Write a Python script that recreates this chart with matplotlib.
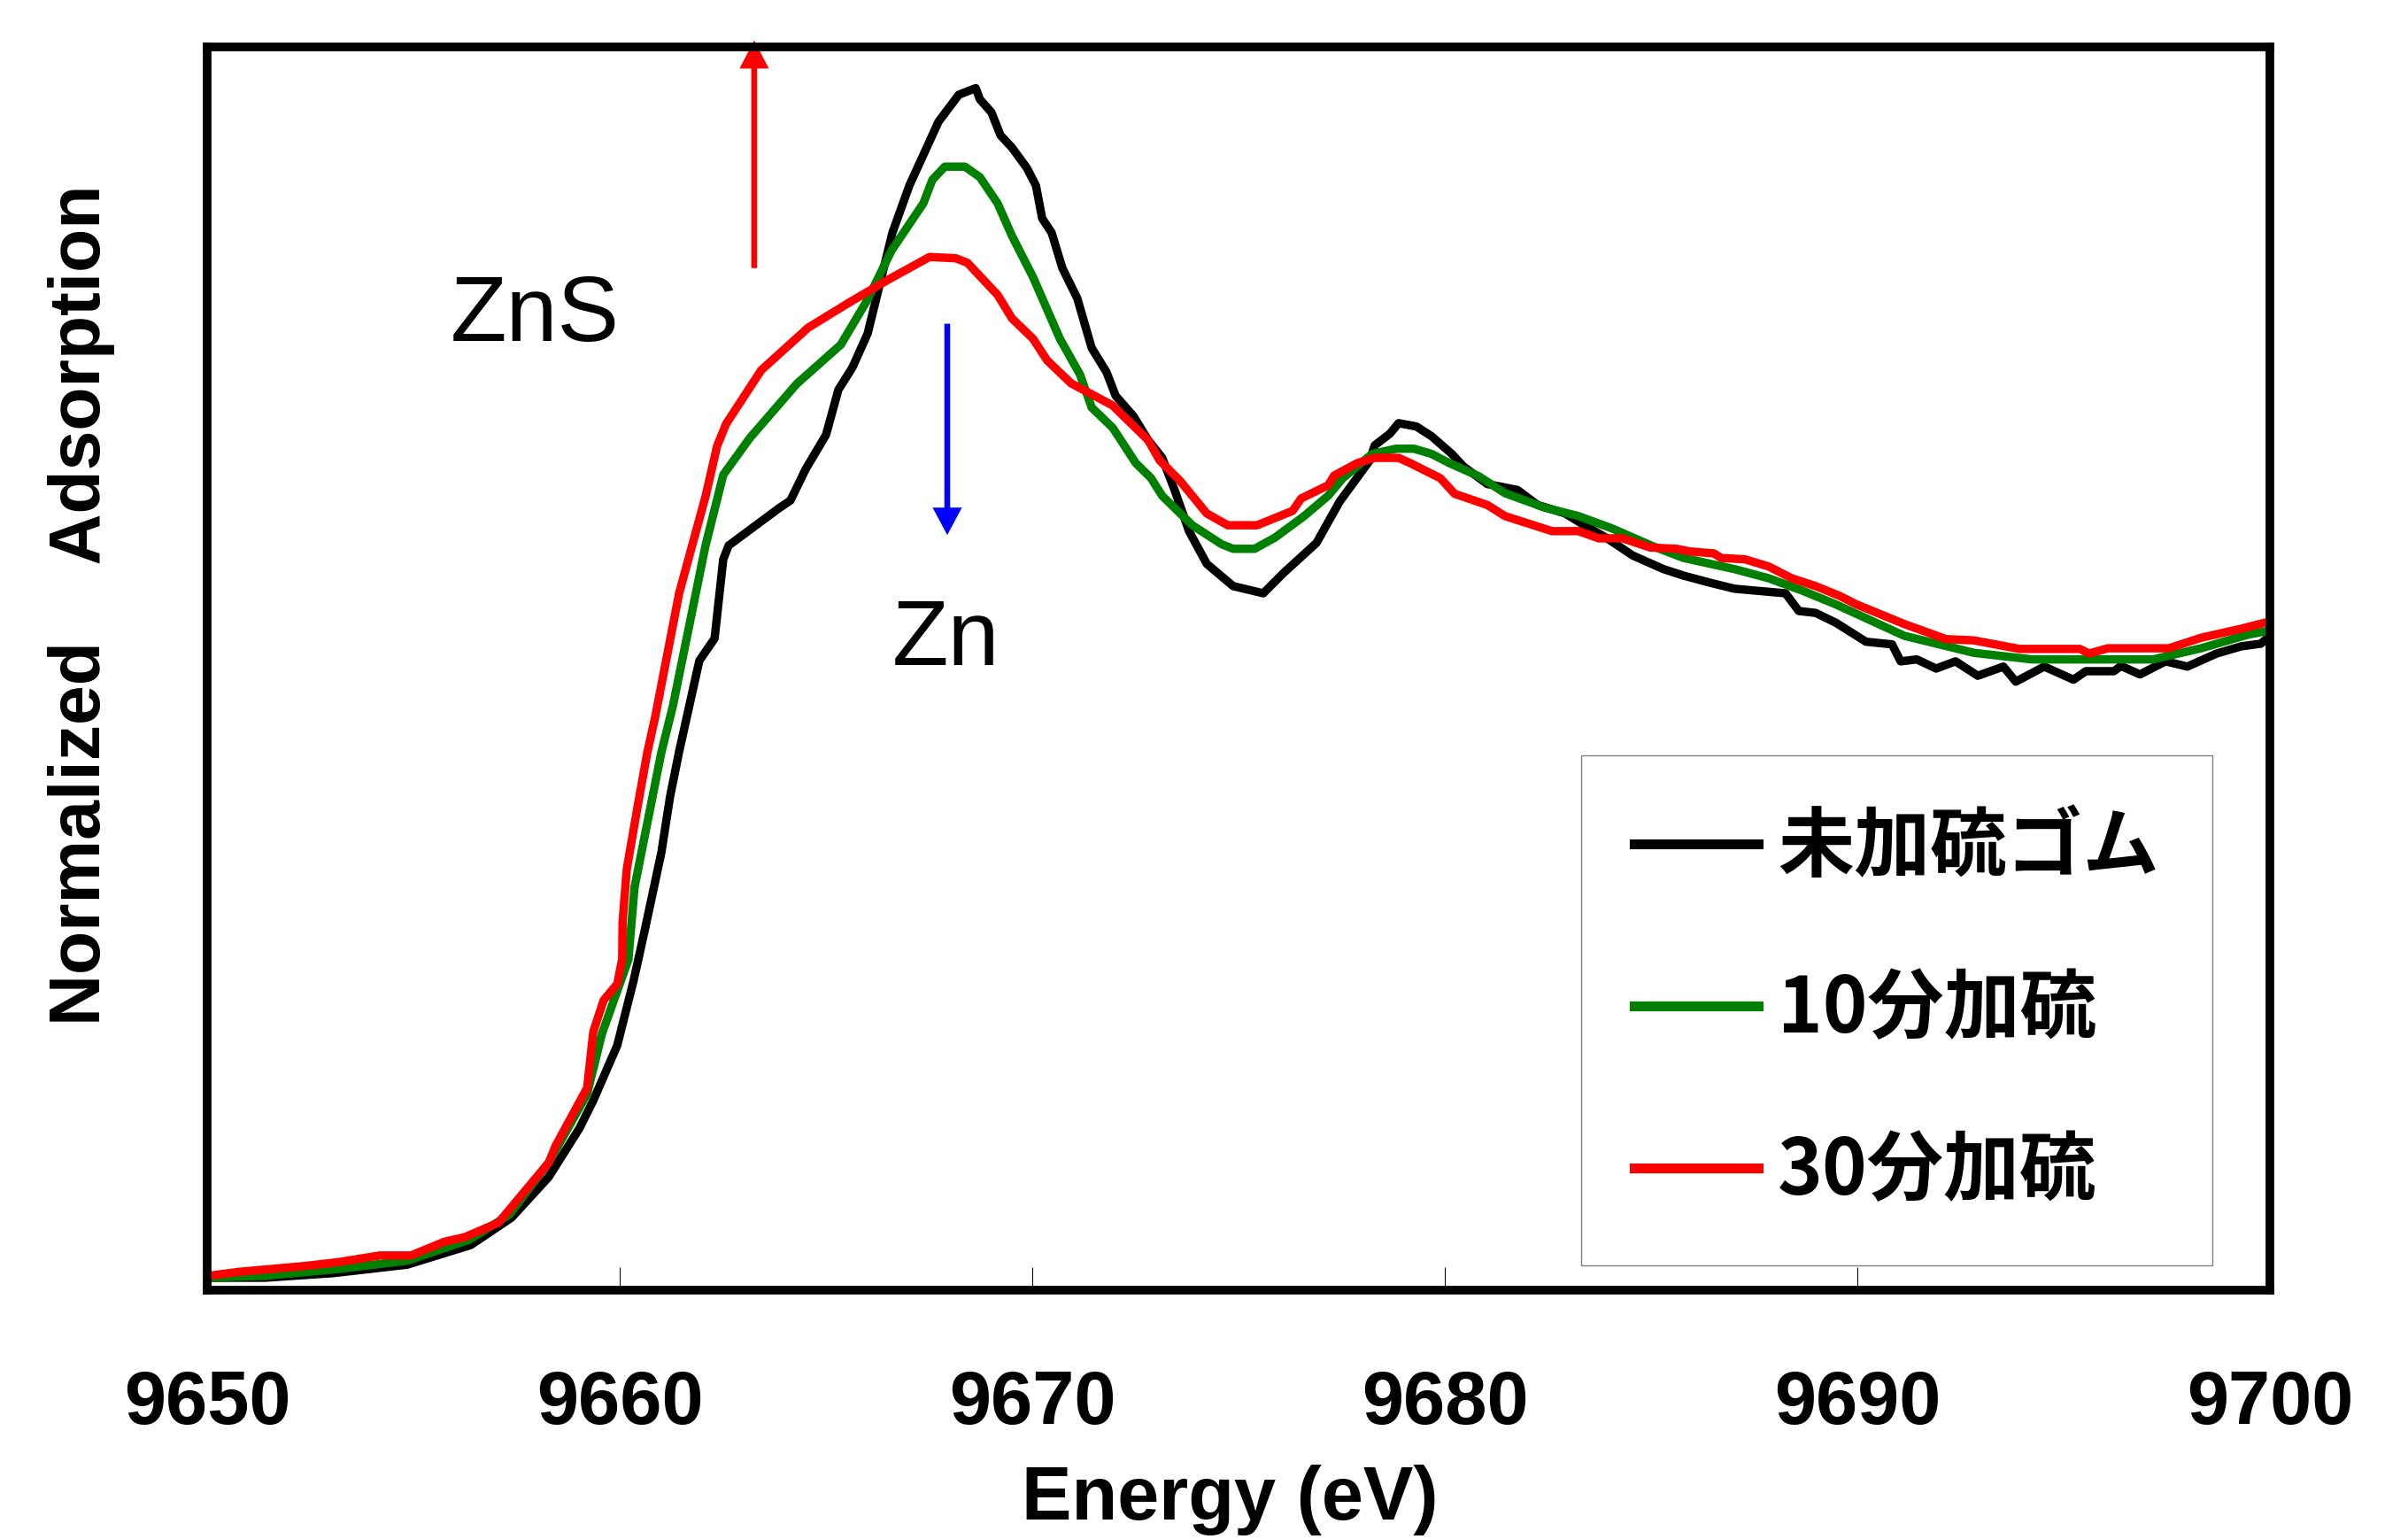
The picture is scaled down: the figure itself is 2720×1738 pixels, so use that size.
import matplotlib
matplotlib.use('Agg')
import matplotlib.pyplot as plt
from matplotlib.font_manager import FontProperties

plt.rcParams['font.family'] = ['Liberation Sans', 'Noto Sans CJK JP', 'DejaVu Sans']

# ---- data (energy in eV, normalized absorption) ----
e_black = [9650.04, 9651.39, 9653.05, 9654.85, 9656.39, 9657.38, 9658.28, 9659.03, 9659.36,
           9659.94, 9660.34, 9660.60, 9661.01, 9661.22, 9661.44, 9661.93, 9662.30, 9662.51,
           9662.64, 9663.86, 9664.14, 9664.51, 9665.00, 9665.30, 9665.64, 9666.01, 9666.61,
           9667.02, 9667.73, 9668.22, 9668.63, 9668.73, 9669.01, 9669.23, 9669.51, 9669.87,
           9670.09, 9670.24, 9670.47, 9670.73, 9671.09, 9671.44, 9671.80, 9672.02, 9672.45,
           9672.81, 9673.15, 9673.45, 9673.80, 9674.23, 9674.87, 9675.60, 9676.09, 9676.89,
           9677.45, 9678.18, 9678.30, 9678.67, 9678.88, 9679.31, 9679.68, 9680.17, 9680.45,
           9681.03, 9681.76, 9682.25, 9682.92, 9683.33, 9683.91, 9684.55, 9685.30, 9685.79,
           9686.44, 9687.02, 9688.26, 9688.58, 9688.99, 9689.48, 9690.21, 9690.84, 9691.05,
           9691.44, 9691.91, 9692.38, 9692.92, 9693.54, 9693.84, 9694.53, 9695.24, 9695.54,
           9696.22, 9696.39, 9696.85, 9697.47, 9698.00, 9698.71, 9699.31, 9699.78, 9700.00]
y_black = [0.019, 0.019, 0.026, 0.039, 0.069, 0.111, 0.173, 0.248, 0.290,
           0.374, 0.474, 0.548, 0.669, 0.754, 0.823, 0.962, 0.996, 1.117,
           1.138, 1.195, 1.207, 1.255, 1.307, 1.376, 1.410, 1.462, 1.616,
           1.688, 1.786, 1.827, 1.837, 1.820, 1.800, 1.765, 1.746, 1.715,
           1.688, 1.638, 1.616, 1.562, 1.516, 1.440, 1.403, 1.367, 1.336,
           1.299, 1.272, 1.223, 1.160, 1.110, 1.076, 1.065, 1.096, 1.142,
           1.205, 1.268, 1.291, 1.309, 1.325, 1.320, 1.305, 1.278, 1.259,
           1.232, 1.223, 1.200, 1.187, 1.171, 1.150, 1.123, 1.102, 1.092,
           1.081, 1.072, 1.065, 1.038, 1.035, 1.020, 0.991, 0.987, 0.961,
           0.964, 0.950, 0.961, 0.939, 0.953, 0.930, 0.953, 0.933, 0.946,
           0.946, 0.954, 0.941, 0.961, 0.953, 0.973, 0.984, 0.988, 1.000]

e_green = [9650.04, 9651.42, 9653.13, 9654.85, 9656.35, 9657.32, 9658.28, 9659.21, 9659.57,
           9660.21, 9660.36, 9661.01, 9661.29, 9662.08, 9662.51, 9663.15, 9664.29, 9665.36,
           9666.01, 9666.59, 9667.36, 9667.58, 9667.88, 9668.37, 9668.73, 9669.16, 9669.51,
           9670.02, 9670.67, 9671.16, 9671.44, 9671.95, 9672.51, 9672.88, 9673.15, 9673.88,
           9674.59, 9674.87, 9675.39, 9675.88, 9676.59, 9677.17, 9677.53, 9678.24, 9678.82,
           9679.25, 9679.68, 9680.11, 9680.82, 9681.46, 9682.42, 9683.24, 9684.06, 9685.04,
           9685.79, 9687.02, 9687.85, 9688.67, 9689.48, 9691.14, 9692.83, 9694.23, 9695.62,
           9697.17, 9698.33, 9699.48, 9700.00]
y_green = [0.019, 0.022, 0.032, 0.045, 0.077, 0.115, 0.195, 0.300, 0.392,
           0.505, 0.616, 0.822, 0.893, 1.138, 1.246, 1.302, 1.385, 1.445,
           1.514, 1.589, 1.661, 1.697, 1.717, 1.717, 1.701, 1.661, 1.611,
           1.548, 1.454, 1.399, 1.349, 1.318, 1.264, 1.241, 1.214, 1.169,
           1.140, 1.133, 1.133, 1.150, 1.183, 1.214, 1.241, 1.278, 1.286,
           1.286, 1.278, 1.264, 1.244, 1.218, 1.196, 1.183, 1.164, 1.137,
           1.119, 1.102, 1.088, 1.069, 1.048, 1.000, 0.974, 0.964, 0.964,
           0.964, 0.981, 1.002, 1.008]

e_red = [9650.04, 9650.77, 9652.38, 9653.20, 9654.18, 9654.94, 9655.75, 9656.24, 9657.06,
         9658.28, 9658.45, 9659.21, 9659.36, 9659.61, 9659.94, 9660.06, 9660.07, 9660.17,
         9660.43, 9660.67, 9660.86, 9661.44, 9662.08, 9662.36, 9662.58, 9663.43, 9664.57,
         9665.58, 9666.50, 9667.51, 9668.15, 9668.43, 9669.16, 9669.51, 9670.02, 9670.36,
         9670.94, 9671.95, 9672.81, 9673.09, 9673.58, 9673.88, 9674.23, 9674.74, 9675.45,
         9676.31, 9676.52, 9677.17, 9677.32, 9677.88, 9678.30, 9678.88, 9679.16, 9679.89,
         9680.24, 9681.03, 9681.46, 9682.60, 9683.24, 9683.73, 9684.31, 9684.98, 9685.62,
         9685.94, 9686.52, 9686.70, 9687.27, 9687.85, 9688.41, 9688.99, 9689.57, 9689.98,
         9691.14, 9692.15, 9692.83, 9693.93, 9695.39, 9695.62, 9696.07, 9697.55, 9698.33,
         9699.31, 9700.00]
y_red = [0.022, 0.028, 0.037, 0.043, 0.053, 0.053, 0.074, 0.081, 0.103,
         0.195, 0.221, 0.309, 0.395, 0.443, 0.468, 0.506, 0.563, 0.643,
         0.738, 0.822, 0.876, 1.065, 1.213, 1.290, 1.324, 1.406, 1.471,
         1.510, 1.544, 1.579, 1.577, 1.570, 1.521, 1.485, 1.454, 1.421,
         1.386, 1.352, 1.299, 1.268, 1.237, 1.214, 1.187, 1.169, 1.169,
         1.191, 1.210, 1.230, 1.245, 1.264, 1.272, 1.272, 1.264, 1.241,
         1.217, 1.200, 1.183, 1.160, 1.160, 1.149, 1.149, 1.135, 1.133,
         1.129, 1.126, 1.119, 1.117, 1.106, 1.088, 1.076, 1.061, 1.048,
         1.018, 0.995, 0.993, 0.980, 0.980, 0.973, 0.981, 0.981, 0.997,
         1.011, 1.022]

series_labels = ['未加硫ゴム', '10分加硫', '30分加硫']
series_colors = ['#000000', '#008000', '#ff0000']
x_ticks = [9650, 9660, 9670, 9680, 9690, 9700]

# ---- figure ----
fig = plt.figure(figsize=(27.2, 17.38), dpi=100)
ax = fig.add_axes([234 / 2720, 1 - 1457 / 1738, 2330 / 2720, 1404 / 1738])

for e, y, lab, c in zip([e_black, e_green, e_red], [y_black, y_green, y_red],
                        series_labels, series_colors):
    ax.plot(e, y, color=c, lw=6.8, label=lab, solid_joinstyle='round')

ax.set_xlim(9650, 9700)
ax.set_ylim(0, 1.9)
ax.set_xticks(x_ticks)
ax.set_yticks([])
ax.tick_params(axis='x', direction='in', length=19, width=0.75, pad=64, labelsize=61)
for t in ax.get_xticklabels():
    t.set_fontweight('bold')
for s in ax.spines.values():
    s.set_linewidth(7)

# annotations
ax.arrow(9663.26, 1.562, 0, 1.910 - 1.562, width=0.14, head_width=0.71, head_length=0.043,
         length_includes_head=True, color='#ff0000', lw=0, clip_on=False)
ax.arrow(9667.94, 1.477, 0, 1.154 - 1.477, width=0.14, head_width=0.71, head_length=0.042,
         length_includes_head=True, color='#0000ff', lw=0, clip_on=False)
ax.text(9657.94, 1.451, 'ZnS', fontsize=75, ha='center', va='baseline')
ax.text(9667.91, 0.955, 'Zn', fontsize=75, ha='center', va='baseline')

leg = ax.legend(loc='upper left', bbox_to_anchor=(0.666, 0.430), borderaxespad=0,
                prop=FontProperties(family=['Noto Sans CJK JP'], weight='bold', size=62),
                handlelength=1.63, handletextpad=0.25, borderpad=0.7, labelspacing=1.1,
                frameon=True, fancybox=False, edgecolor='#808080', framealpha=1)
leg.get_frame().set_linewidth(1)
for l in leg.get_lines():
    l.set_linewidth(8)

fig.text(1389 / 2720, 22 / 1738, 'Energy (eV)', fontsize=61, fontweight='bold',
         ha='center', va='baseline')
fig.text(113 / 2720, 1 - 683.5 / 1738, 'Normalized    Adsorption', fontsize=58,
         fontweight='bold', rotation=90, rotation_mode='anchor', ha='center', va='baseline')

fig.savefig('out.png', dpi=100)
